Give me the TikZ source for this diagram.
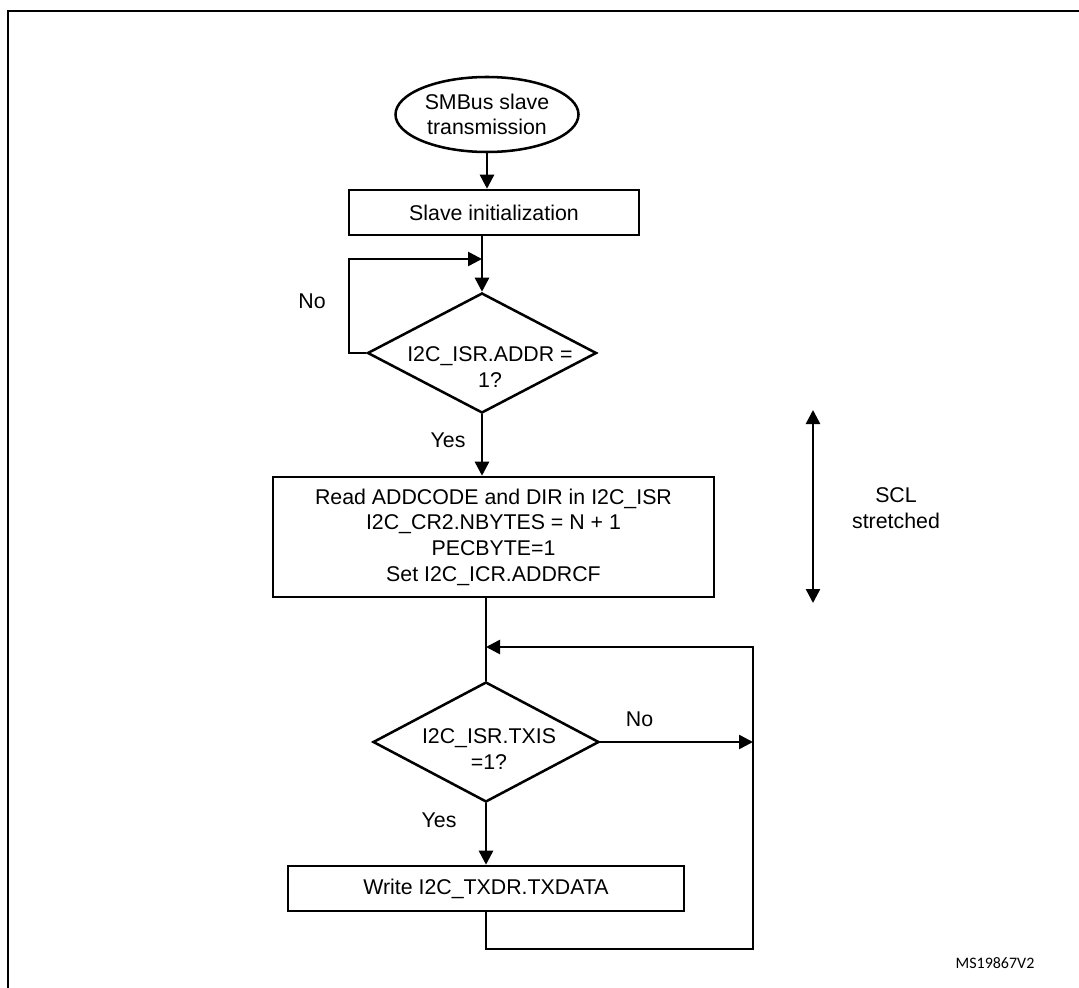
\documentclass[tikz,border=0pt]{standalone}
\usepackage{fontspec}
\setmainfont{Liberation Sans}
\newfontfamily\codefont{Carlito}
\usetikzlibrary{shapes.geometric,arrows.meta}
\begin{document}
\begin{tikzpicture}[x=0.75pt,y=-0.75pt,
  every node/.style={font=\fontsize{16}{19.2}\selectfont, inner sep=0pt, align=center},
  procbox/.style={draw, line width=1.9pt, rectangle},
  decbox/.style={draw, line width=1.9pt, diamond},
  termbox/.style={draw, line width=1.9pt, ellipse},
  flow/.style={line width=1.9pt, -{Triangle[length=10.5pt,width=10.5pt]}},
  plain/.style={line width=1.9pt},
  both/.style={line width=1.9pt, {Triangle[length=10.5pt,width=10.5pt]}-{Triangle[length=10.5pt,width=10.5pt]}},
  lbl/.style={font=\fontsize{16}{19}\selectfont}
]
\useasboundingbox (0,0) rectangle (1079,988);
\fill[white] (0,0) rectangle (1079,988);
% frame
\coordinate (fa) at (8,1000);
\coordinate (fb) at (8,11);
\coordinate (fc) at (1100,11);
\draw[line width=1.6pt] (fa) -- (fb) -- (fc);

% nodes
\node[termbox, minimum width=137.25pt, minimum height=56.25pt] (start) at (487,114.5) {SMBus slave\\transmission};
\node[procbox, minimum width=217.5pt, minimum height=33.75pt] (init) at (494,212.5) {Slave initialization};
\node[decbox, minimum width=171.75pt, minimum height=90pt] (d1) at (482,353) {};
\node (d1t) at (490,367) {I2C\_ISR.ADDR =\\1?};
\node[procbox, minimum width=330.75pt, minimum height=90pt] (big) at (493.5,537)
  {Read ADDCODE and DIR in I2C\_ISR\\I2C\_CR2.NBYTES = N + 1\\PECBYTE=1\\Set I2C\_ICR.ADDRCF};
\node[decbox, minimum width=169.5pt, minimum height=90pt] (d2) at (486,742) {};
\node (d2t) at (489,749) {I2C\_ISR.TXIS\\=1?};
\node[procbox, minimum width=297pt, minimum height=33.75pt] (write) at (486,888.5) {Write I2C\_TXDR.TXDATA};

% labels
\node[lbl] (no1) at (312,301) {No};
\node[lbl] (yes1) at (448,440) {Yes};
\node[lbl] (no2) at (639.5,719) {No};
\node[lbl] (yes2) at (439,820) {Yes};
\node (scl) at (896,508) {SCL\\stretched};
\node[font=\codefont\fontsize{12}{14}\selectfont] (ms) at (995,963) {MS19867V2};

% coordinates
\coordinate (j1) at (482,259);
\coordinate (l1) at (349,353);
\coordinate (j2) at (486,647);
\coordinate (r1) at (753,742);
\coordinate (r3) at (753,647);
\coordinate (b1) at (486,949);
\coordinate (s1) at (813,410);
\coordinate (s2) at (813,603);

% connectors
\draw[flow] (start.south) -- (start.south |- init.north);
\draw[flow] (init.south -| d1.north) -- (d1.north);
\draw[flow] (d1.west) -- (l1) |- (j1);
\draw[flow] (d1.south) -- (d1.south |- big.north);
\draw[plain] (big.south -| d2.north) -- (d2.north);
\draw[flow] (d2.east) -- (r1);
\draw[flow] (d2.south) -- (write.north);
\draw[flow] (write.south) -- (b1) -| (r3) -- (j2);
\draw[both] (s1) -- (s2);
\end{tikzpicture}
\end{document}
